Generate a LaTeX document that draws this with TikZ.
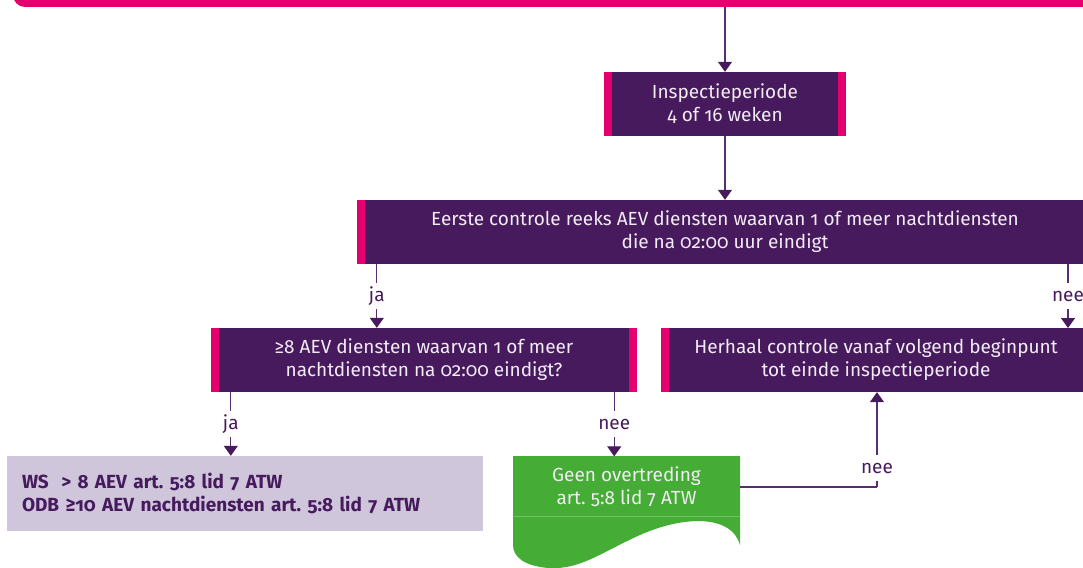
\documentclass[tikz,border=0pt]{standalone}
\usepackage{fontspec}
\setmainfont{Fira Sans}[Numbers=OldStyle]
\usetikzlibrary{arrows.meta,calc}
\frenchspacing
\definecolor{pinkc}{HTML}{E3006E}
\definecolor{purp}{HTML}{461A5C}
\definecolor{lnc}{HTML}{5A2D72}
\definecolor{greenc}{HTML}{45AD35}
\definecolor{lav}{HTML}{CFC6DC}
\definecolor{txtw}{HTML}{F2ECF4}
\tikzset{
  box/.style={fill=purp, text=txtw, align=center, font=\fontsize{19}{23}\selectfont,
    minimum height=64pt, inner sep=0pt},
  rbar/.style={path picture={\fill[pinkc] (path picture bounding box.north west) rectangle ([xshift=8pt]path picture bounding box.south west);
     \fill[pinkc] (path picture bounding box.north east) rectangle ([xshift=-8pt]path picture bounding box.south east);}},
  conn/.style={draw=lnc, line width=1.3pt, -{Triangle[width=14pt,length=10pt]}, arrows={[color=purp]}},
  plain/.style={draw=lnc, line width=1.3pt},
  lbl/.style={fill=white, text=purp, font=\fontsize{19}{20}\selectfont, inner sep=0pt, minimum height=26pt}
}
\begin{document}
\begin{tikzpicture}[x=1pt,y=-1pt]
\useasboundingbox (0,0) rectangle (1083,567);
\clip (0,0) rectangle (1083,567);
% top banner
\fill[pinkc, rounded corners=12pt] (13,-30) rectangle (1120,7);
\coordinate (top) at (725,7);
% boxes
\node[box, rbar, minimum width=242pt] (b1) at (725,104) {Inspectieperiode\\4 of 16 weken};
\node[box, rbar, minimum width=736pt] (b2) at (725,232) {Eerste controle reeks AEV diensten waarvan 1 of meer nachtdiensten\\die na 02:00 uur eindigt};
\node[box, rbar, minimum width=426pt] (b3) at (424,360) {≥8 AEV diensten waarvan 1 of meer\\nachtdiensten na 02:00 eindigt?};
\node[box, rbar, minimum width=430pt] (b4) at (876,360) {Herhaal controle vanaf volgend beginpunt\\tot einde inspectieperiode};
\node[fill=lav, text=purp, minimum width=476pt, minimum height=75pt, inner sep=0pt,
  text width=446pt, align=left, font=\bfseries\fontsize{19}{22.5}\selectfont] (b5) at (245,493.5)
  {WS\ \ > 8 AEV art. 5:8 lid 7 ATW\\ODB ≥10 AEV nachtdiensten art. 5:8 lid 7 ATW};
% green document
\fill[greenc] (513,456) -- (740,456) -- (740,545)
  .. controls (732,515) and (685,515) .. (640,535)
  .. controls (600,553) and (580,570) .. (548,568)
  .. controls (526,566) and (513,558) .. (513,545) -- cycle;
\draw[white, opacity=0.25, line width=0.8pt] (513,516) -- (740,516);
\node[text=txtw, align=center, font=\fontsize{19}{23}\selectfont, minimum width=227pt, minimum height=61pt, inner sep=0pt] (b6) at (626.5,487) {Geen overtreding\\art. 5:8 lid 7 ATW};
% connectors
\draw[conn] (top) -- (b1.north);
\draw[conn] (b1.south) -- (b2.north);
\draw[conn] ([xshift=20pt]b2.south west) -- ([xshift=20pt]b2.south west |- b3.north)
  node[lbl, pos=0.5] {ja};
\draw[conn] (1068,264) -- (1068,328) node[lbl, pos=0.5] {nee};
\draw[conn] ([xshift=20pt]b3.south west) -- ([xshift=20pt]b3.south west |- b5.north)
  node[lbl, pos=0.5] {ja};
\draw[conn] ([xshift=-23pt]b3.south east) -- ([xshift=-23pt]b3.south east |- b6.north)
  node[lbl, pos=0.5] {nee};
\coordinate (corner) at (877,487);
\draw[plain] (740,487) -- (corner);
\draw[conn] (corner) -- (b4.south -| corner) node[lbl, pos=0.2] {nee};
\end{tikzpicture}
\end{document}
